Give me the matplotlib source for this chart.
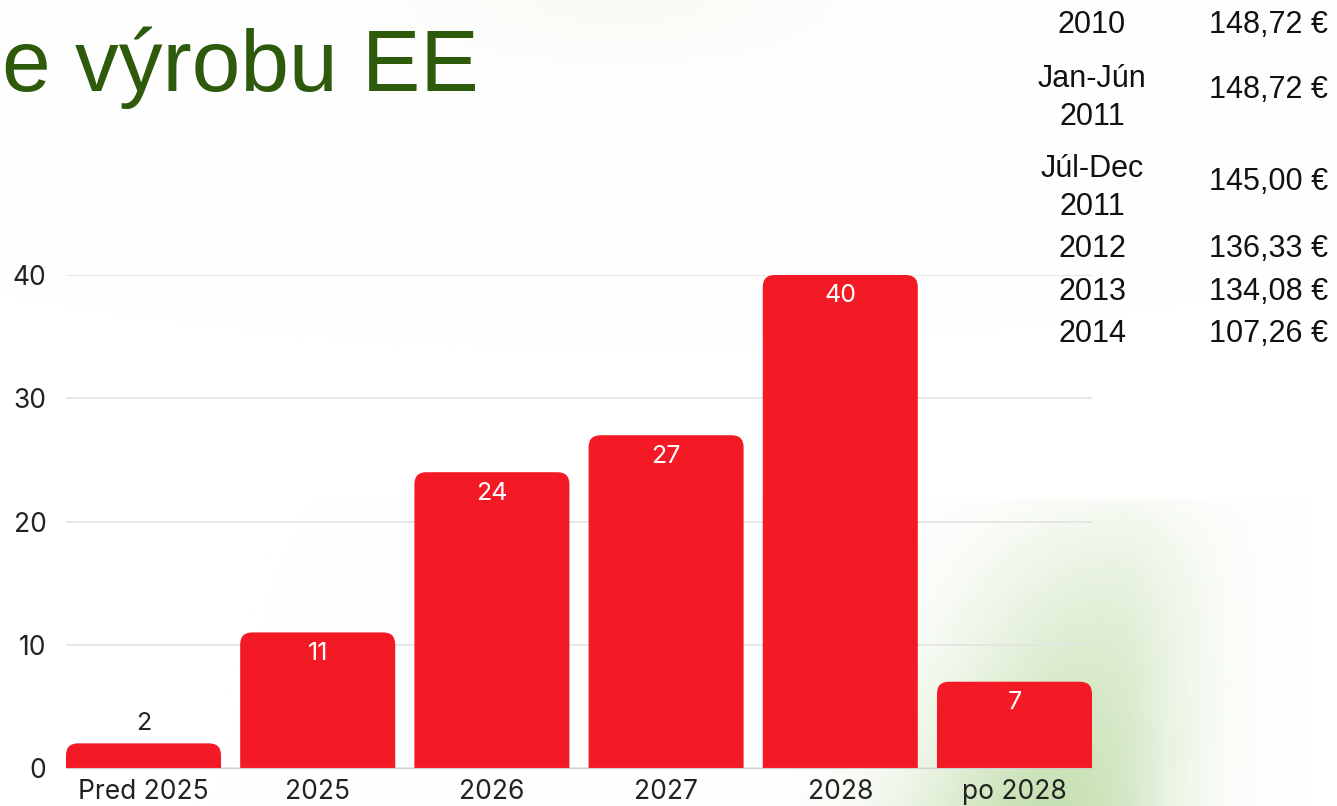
import numpy as np
import matplotlib
matplotlib.use("Agg")
import matplotlib.pyplot as plt
from matplotlib.patches import FancyBboxPatch

# chart data
categories = ["Pred 2025", "2025", "2026", "2027", "2028", "po 2028"]
values = [2, 11, 24, 27, 40, 7]
yticks = [0, 10, 20, 30, 40]

# price table (top right)
table_periods = ["2010", "Jan-Jún\n2011", "Júl-Dec\n2011", "2012", "2013", "2014"]
table_prices = ["148,72 €", "148,72 €", "145,00 €", "136,33 €", "134,08 €", "107,26 €"]

W, H = 1337, 806
fig = plt.figure(figsize=(W / 100, H / 100), dpi=100)
fig.patch.set_facecolor("white")

# soft green background glow (decoration)
bg = fig.add_axes([0, 0, 1, 1], zorder=-10)
yy, xx = np.mgrid[0:H, 0:W].astype(float)
xc = 1050 + (806 - yy) * 0.25
band = np.exp(-((xx - xc) / 140.0) ** 2)
band *= np.clip((yy - 495) / 311.0, 0, 1) ** 0.8 * 0.9 + np.clip((yy - 495) / 8.0, 0, 1) * 0.1
band *= np.clip((1310 - xx) / 180.0, 0, 1)
top = 0.12 * np.exp(-((xx - 620) / 200.0) ** 2 - ((yy - 0) / 60.0) ** 2)
a = np.clip(band + top, 0, 1)
green = np.array([0.78, 0.88, 0.70])
img = np.ones((H, W, 3)) * (1 - a[..., None]) + green * a[..., None]
bg.imshow(img, extent=[0, W, H, 0], aspect="auto", interpolation="bilinear")
bg.set_xlim(0, W)
bg.set_ylim(H, 0)
bg.axis("off")

# title fragment
fig.text(2 / W, 1 - 91 / H, "e výrobu EE", fontsize=63, color="#2e5a0c",
         family="Liberation Sans", ha="left", va="baseline")

# price table
row_y = [25, 98, 188, 249, 292, 334]
val_y = [25, 90, 182, 249, 292, 334]
for per, price, ry, vy in zip(table_periods, table_prices, row_y, val_y):
    fig.text(1092 / W, 1 - ry / H, per, fontsize=22, family="Liberation Sans",
             ha="center", va="center", linespacing=1.32, color="#111111")
    fig.text(1328 / W, 1 - vy / H, price, fontsize=22, family="Liberation Sans",
             ha="right", va="center", color="#111111")

# bar chart
ax = fig.add_axes([66 / W, (H - 768) / H, 1026 / W, 493 / H])
ax.patch.set_alpha(0)
red = "#f31a25"
x = np.arange(len(categories))
bars = ax.bar(x, values, width=0.89, color=red)
ax.set_xlim(-0.445, len(categories) - 1 + 0.445)
ax.set_ylim(0, 40)

# rounded top corners
px_x = 1026 / (len(categories) - 1 + 0.89)  # pixels per x unit
px_y = 493 / 40.0                           # pixels per y unit
r = 12 / px_x
for b in bars:
    b.set_visible(False)
    bx, bw, bh = b.get_x(), b.get_width(), b.get_height()
    p = FancyBboxPatch((bx, -2), bw, bh + 2,
                       boxstyle=f"round,pad=0,rounding_size={r}",
                       mutation_aspect=px_x / px_y, facecolor=red,
                       edgecolor="none", zorder=2)
    ax.add_patch(p)

for xi, v in zip(x, values):
    if v < 5:
        ax.annotate(str(v), (xi, v), xytext=(0, 14), textcoords="offset points",
                    ha="center", va="center", fontsize=18, family="Inter",
                    color="#222222")
    else:
        ax.annotate(str(v), (xi, v), xytext=(0, -15), textcoords="offset points",
                    ha="center", va="center", fontsize=18, family="Inter",
                    color="white")

ax.set_yticks(yticks)
ax.grid(axis="y", color="#e3e3e3", linewidth=1.2, zorder=0)
ax.set_axisbelow(True)
for s in ["top", "right", "left"]:
    ax.spines[s].set_visible(False)
ax.spines["bottom"].set_color("#cfcfcf")
ax.spines["bottom"].set_zorder(3)
ax.set_xticks(x)
ax.set_xticklabels(categories)
ax.tick_params(axis="both", length=0, labelsize=19, labelcolor="#222222")
ax.tick_params(axis="x", pad=8)
ax.tick_params(axis="y", pad=14)
for lbl in ax.get_xticklabels() + ax.get_yticklabels():
    lbl.set_family("Inter")

fig.savefig("out.png", dpi=100)
